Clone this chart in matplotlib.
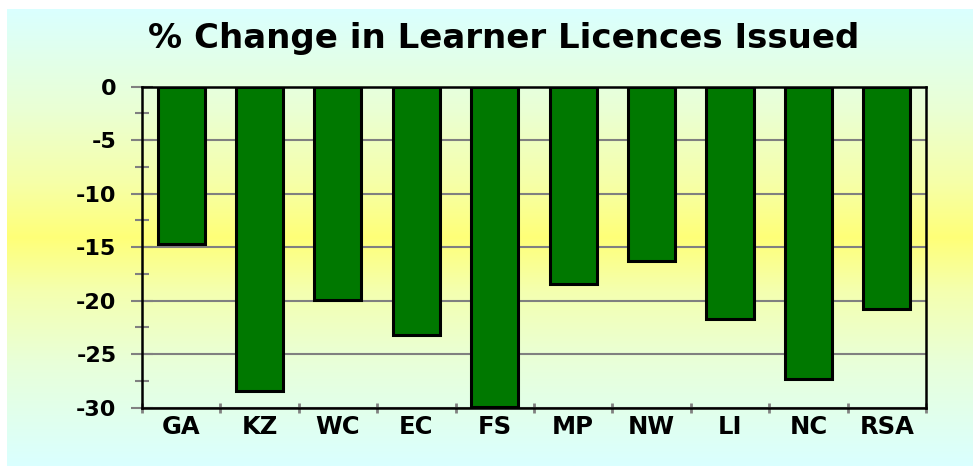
import numpy as np
import matplotlib
matplotlib.use('Agg')
from matplotlib import pyplot as plt
from matplotlib.colors import LinearSegmentedColormap

# data
provinces = ['GA', 'KZ', 'WC', 'EC', 'FS', 'MP', 'NW', 'LI', 'NC', 'RSA']
pct_change = [-14.7, -28.4, -19.9, -23.2, -29.9, -18.4, -16.3, -21.7, -27.3, -20.8]
y_ticks = [0, -5, -10, -15, -20, -25, -30]

plt.rcParams['font.family'] = ['DejaVu Sans']

fig = plt.figure(figsize=(9.73, 4.68), dpi=100)
fig.patch.set_facecolor('white')

# background gradient (cyan - yellow - cyan)
bg_cmap = LinearSegmentedColormap.from_list('bg', [
    (0.0, '#DAFFFF'), (0.22, '#E8FFDA'), (0.38, '#F4FFB0'), (0.5, '#FFFF78'),
    (0.62, '#F6FFA8'), (0.78, '#EAFFD4'), (1.0, '#DAFFFF')])
bg = fig.add_axes([7 / 973, 2 / 468, 966 / 973, 457 / 468])
bg.imshow(np.linspace(1, 0, 256).reshape(-1, 1), aspect='auto', cmap=bg_cmap,
          extent=[0, 1, 0, 1])
bg.axis('off')

ax = fig.add_axes([0.1459, 0.1288, 0.8058, 0.6859])
ax.patch.set_alpha(0)

ax.bar(range(len(provinces)), pct_change, width=0.6, color='#007800',
       edgecolor='black', linewidth=2.2, zorder=3)

ax.set_xlim(-0.5, len(provinces) - 0.5)
ax.set_ylim(-30, 0)

# y axis
ax.set_yticks(y_ticks)
ax.set_yticks(np.arange(-27.5, 0, 5), minor=True)
ax.set_yticklabels([str(t) for t in y_ticks], fontsize=16, fontweight='bold')
ax.tick_params(axis='y', which='major', direction='inout', length=15.8, width=1.5,
               color='#808080', pad=10.5)
ax.tick_params(axis='y', which='minor', direction='inout', length=10, width=1.5,
               color='#808080')
ax.yaxis.grid(True, which='major', color='#808080', linewidth=1.5, zorder=0)

# x axis
ax.set_xticks(range(len(provinces)))
ax.set_xticklabels(provinces, fontsize=17.5, fontweight='bold')
ax.set_xticks(np.arange(-0.5, len(provinces), 1), minor=True)
ax.tick_params(axis='x', which='major', length=0, pad=5)
ax.tick_params(axis='x', which='minor', direction='inout', length=6.5, width=2,
               color='#808080')

for side in ['left', 'bottom', 'top', 'right']:
    ax.spines[side].set_color('black')
    ax.spines[side].set_linewidth(1.8)
    ax.spines[side].set_zorder(4)

fig.text(0.5175, 1 - 48 / 468, '% Change in Learner Licences Issued',
         ha='center', va='baseline', fontsize=24.5, fontweight='bold')

fig.savefig('out.png', dpi=100)
